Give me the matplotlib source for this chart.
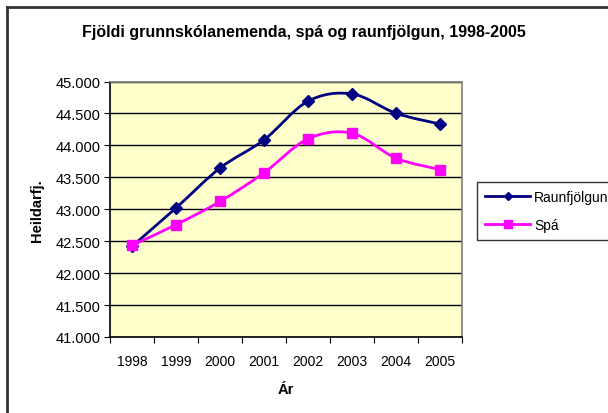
import numpy as np
import matplotlib.pyplot as plt
from matplotlib.path import Path
from matplotlib.patches import PathPatch
from matplotlib.lines import Line2D
from matplotlib.ticker import FuncFormatter, FixedLocator

# Data
years = ['1998', '1999', '2000', '2001', '2002', '2003', '2004', '2005']
raunfjolgun = [42420, 43020, 43645, 44086, 44692, 44806, 44503, 44334]
spa = [42435, 42758, 43122, 43570, 44102, 44190, 43800, 43622]

plt.rcParams['font.family'] = ['Liberation Sans', 'DejaVu Sans']


def smooth_path(x, y):
    """ Excel-like smoothed line: Catmull-Rom segments as cubic Bezier """
    pts = np.column_stack([x, y]).astype(float)
    verts = [pts[0]]
    codes = [Path.MOVETO]
    n = len(pts)
    for i in range(n - 1):
        p0 = pts[i - 1] if i > 0 else pts[i]
        p1 = pts[i]
        p2 = pts[i + 1]
        p3 = pts[i + 2] if i + 2 < n else pts[i + 1]
        c1 = p1 + (p2 - p0) / 6.0
        c2 = p2 - (p3 - p1) / 6.0
        verts += [c1, c2, p2]
        codes += [Path.CURVE4] * 3
    return Path(verts, codes)


fig = plt.figure(figsize=(6.08, 4.14), dpi=100)
fig.patch.set_facecolor('white')

# outer frame (only top and left visible in the original)
fig.add_artist(Line2D([7 / 608, 7 / 608], [0, 1 - 8 / 414], transform=fig.transFigure,
                      color='#333333', lw=2))
fig.add_artist(Line2D([7 / 608, 1], [1 - 8 / 414, 1 - 8 / 414], transform=fig.transFigure,
                      color='#333333', lw=2))

ax = fig.add_axes([110 / 608, 1 - 338 / 414, 352 / 608, 255.5 / 414])
ax.set_facecolor('#FFFFCC')

x = np.arange(len(years))
series = [(raunfjolgun, '#000080', 'D', 6, 'Raunfjölgun'),
          (spa, '#FF00FF', 's', 7.5, 'Spá')]
for vals, col, mk, ms, lab in series:
    ax.add_patch(PathPatch(smooth_path(x, vals), facecolor='none', edgecolor=col, lw=2, zorder=3))
    ax.plot(x, vals, linestyle='none', marker=mk, markersize=ms, color=col, zorder=4)

ax.set_xlim(-0.5, len(years) - 0.5)
ax.set_ylim(41000, 45000)
ax.set_yticks(np.arange(41000, 45001, 500))
ax.yaxis.set_major_formatter(FuncFormatter(lambda v, p: f'{int(v):,}'.replace(',', '.')))
ax.grid(axis='y', color='black', lw=1)
ax.set_axisbelow(True)

ax.xaxis.set_major_locator(FixedLocator(np.arange(-0.5, len(years), 1)))
ax.xaxis.set_major_formatter(FuncFormatter(lambda v, p: ''))
ax.xaxis.set_minor_locator(FixedLocator(x))
ax.set_xticklabels(years, minor=True)
ax.tick_params(axis='x', which='minor', length=0, pad=12, labelsize=10)
ax.tick_params(axis='x', which='major', length=4, direction='out')
ax.tick_params(axis='y', length=4, direction='out', labelsize=10.5, pad=3)

for s in ax.spines.values():
    s.set_color('#808080')
    s.set_linewidth(1.2)
ax.spines['left'].set_color('black')
ax.spines['bottom'].set_color('black')

ax.set_xlabel('Ár', fontweight='bold', fontsize=10.5, labelpad=10)
ax.set_ylabel('Heildarfj.', fontweight='bold', fontsize=10.5, labelpad=8)

fig.text(304 / 608, 1 - 32 / 414, 'Fjöldi grunnskólanemenda, spá og raunfjölgun, 1998-2005',
         ha='center', va='center', fontweight='bold', fontsize=11.5)

handles = [Line2D([], [], color=c, marker=m, markersize=ms * 0.75, lw=2, label=l)
           for _, c, m, ms, l in series]
leg = fig.legend(handles=handles, loc='upper left', bbox_to_anchor=(477 / 608, 1 - 183 / 414),
                 frameon=True, fancybox=False, edgecolor='black', fontsize=10,
                 handlelength=3.2, handletextpad=0.3, borderpad=0.6, labelspacing=0.95,
                 borderaxespad=0)
leg.get_frame().set_linewidth(1)

fig.savefig('out.png', dpi=100)
